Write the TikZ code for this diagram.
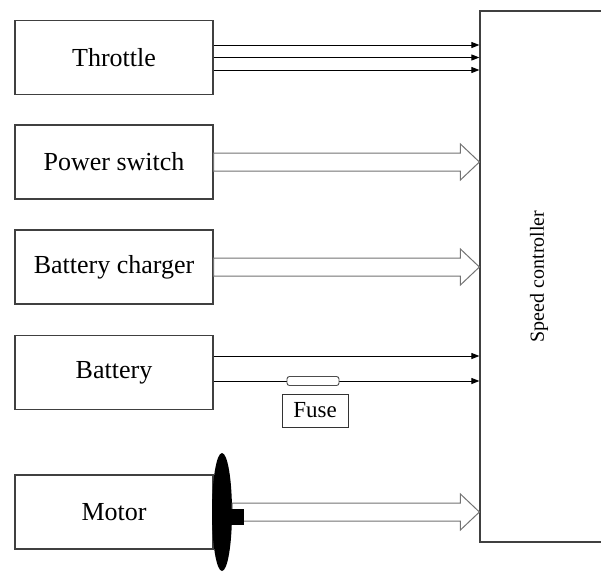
\documentclass[tikz,border=0pt]{standalone}
\usepackage{graphicx}
\usepackage{fontspec}
\setmainfont{Liberation Serif}
\usetikzlibrary{arrows.meta,shapes.geometric}

\begin{document}
\begin{tikzpicture}[x=1pt,y=-1pt,
box/.style={draw=black!75,line width=1.2pt,minimum width=198pt,minimum height=74pt,font=\fontsize{26}{30}\selectfont},
arr/.style={-{Triangle[length=8pt,width=6pt]},line width=0.9pt},
hollow/.style={draw=black!55,line width=1pt,fill=white}]
\useasboundingbox (0,0) rectangle (601,573);
\node[box] (thr) at (114,57.5) {Throttle};
\node[box] (pwr) at (114,162) {Power switch};
\node[box] (chg) at (114,267) {Battery charger};
\node[box] (bat) at (114,372.5) {Battery};
\node[box] (mot) at (114,512) {Motor};
\node[draw=black!75,line width=1.2pt,minimum height=531pt,minimum width=126pt,inner sep=0pt,font=\fontsize{20}{24}\selectfont] (ctrl) at (543,276.5) {\hspace{-8pt}\rotatebox{90}{Speed controller}};
% throttle signals
\draw[arr] ([yshift=12.5pt]thr.east) -- ([yshift=12.5pt]thr.east -| ctrl.west);
\draw[arr] (thr.east) -- (thr.east -| ctrl.west);
\draw[arr] ([yshift=-12.5pt]thr.east) -- ([yshift=-12.5pt]thr.east -| ctrl.west);
% battery lines and fuse
\draw[arr] ([yshift=16.5pt]bat.east) -- ([yshift=16.5pt]bat.east -| ctrl.west);
\draw[arr] ([yshift=-8.5pt]bat.east) -- ([yshift=-8.5pt]bat.east -| ctrl.west);
\node[draw=black!70,line width=0.9pt,rounded corners=2.5pt,fill=white,minimum width=52pt,minimum height=9pt,inner sep=0pt] (fuse) at (313,381) {};
\node[draw=black!80,line width=0.9pt,minimum width=66pt,minimum height=33pt,inner sep=2pt,font=\fontsize{23}{26}\selectfont] (fuselab) at (315,410.5) {Fuse};
% motor shaft
\node[ellipse,fill=black,minimum width=20pt,minimum height=118pt,inner sep=0pt] (wheel) at (222,512) {};
% wide arrows
\foreach \src in {pwr,chg,wheel}
  \draw[hollow] ([yshift=9pt]\src.east) -- ([xshift=-19pt,yshift=9pt]\src.east -| ctrl.west)
    -- ([xshift=-19pt,yshift=18pt]\src.east -| ctrl.west) -- (\src.east -| ctrl.west)
    -- ([xshift=-19pt,yshift=-18pt]\src.east -| ctrl.west) -- ([xshift=-19pt,yshift=-9pt]\src.east -| ctrl.west)
    -- ([yshift=-9pt]\src.east) -- cycle;
\node[fill=black,minimum width=13pt,minimum height=16pt,inner sep=0pt,anchor=west] (hub) at ([xshift=-1pt,yshift=-5pt]wheel.east) {};
\end{tikzpicture}
\end{document}
